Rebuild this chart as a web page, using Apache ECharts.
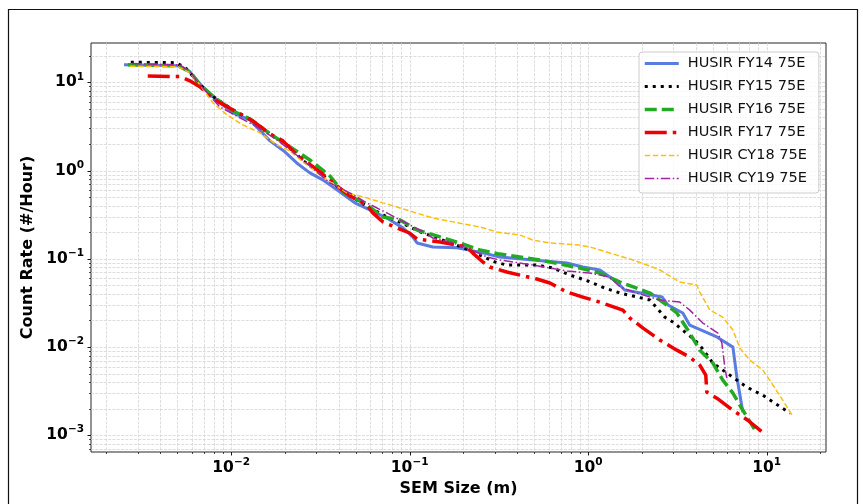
<!DOCTYPE html>
<html>
<head>
<meta charset="utf-8">
<script src="https://cdn.jsdelivr.net/npm/echarts@6/dist/echarts.min.js"></script>
<style>
  html, body { margin: 0; padding: 0; background: #ffffff; }
  #chart { width: 863px; height: 504px; }
</style>
</head>
<body>
<div id="chart"></div>
<script>
// Cumulative count rate versus SEM size, one curve per HUSIR campaign.
const FONT = '"DejaVu Sans", "Liberation Sans", sans-serif';

const seriesNames = ['HUSIR FY14 75E', 'HUSIR FY15 75E', 'HUSIR FY16 75E',
                     'HUSIR FY17 75E', 'HUSIR CY18 75E', 'HUSIR CY19 75E'];

// [SEM size (m), count rate (#/hour)]
const fy14 = [[0.00251,15.8],[0.00503,15.4],[0.00587,13.2],[0.00668,9.64],[0.00779,7.05],
  [0.0102,4.52],[0.0127,3.76],[0.0165,2.17],[0.0200,1.63],[0.0233,1.22],[0.0276,0.942],
  [0.0326,0.784],[0.0391,0.604],[0.0493,0.430],[0.0598,0.358],[0.0745,0.290],[0.0916,0.224],
  [0.104,0.177],[0.110,0.151],[0.135,0.136],[0.184,0.133],[0.247,0.119],[0.320,0.105],
  [0.490,0.0969],[0.760,0.0896],[0.934,0.0807],[1.163,0.0746],[1.448,0.0545],[1.60,0.0442],
  [2.60,0.0368],[2.80,0.0299],[3.39,0.0243],[3.71,0.0177],[5.26,0.0130],[6.47,0.00997],
  [6.81,0.00455],[7.36,0.00182]];

const fy15 = [[0.00274,16.9],[0.00484,16.7],[0.00550,15.0],[0.00668,9.39],[0.00810,6.69],
  [0.0102,4.89],[0.0132,3.66],[0.0171,2.48],[0.0213,1.86],[0.0249,1.32],[0.0314,0.942],
  [0.0435,0.558],[0.0561,0.408],[0.0745,0.298],[0.0904,0.255],[0.111,0.207],[0.142,0.172],
  [0.196,0.136],[0.247,0.110],[0.300,0.0920],[0.350,0.0850],[0.516,0.0850],[0.634,0.0786],
  [0.790,0.0655],[0.996,0.0560],[1.24,0.0466],[1.51,0.0409],[2.22,0.0341],[2.69,0.0218],
  [2.98,0.0192],[3.96,0.0120],[4.34,0.00972],[5.00,0.00657],[6.22,0.00480],[7.74,0.00351],
  [9.52,0.00284],[13.5,0.00178]];

const fy16 = [[0.00264,15.8],[0.00503,15.4],[0.00587,13.2],[0.00668,9.39],[0.00810,6.69],
  [0.0102,4.76],[0.0127,3.86],[0.0165,2.61],[0.0213,1.86],[0.0276,1.32],[0.0357,0.871],
  [0.0422,0.573],[0.0576,0.408],[0.0708,0.298],[0.0881,0.276],[0.110,0.212],[0.148,0.177],
  [0.191,0.151],[0.247,0.126],[0.320,0.113],[0.536,0.0969],[0.899,0.0786],[1.163,0.0690],
  [1.51,0.0545],[2.22,0.0409],[2.76,0.0299],[3.14,0.0243],[3.71,0.0144],[4.22,0.00922],
  [5.00,0.00657],[5.68,0.00421],[6.47,0.00300],[7.36,0.00192],[8.70,0.00111]];

const fy17 = [[0.00341,11.8],[0.00516,11.6],[0.00587,10.4],[0.00668,8.91],[0.00789,6.51],
  [0.0102,4.89],[0.0132,3.66],[0.0165,2.61],[0.0195,2.17],[0.0233,1.51],[0.0314,0.967],
  [0.0391,0.670],[0.0462,0.516],[0.0576,0.408],[0.0622,0.331],[0.0708,0.262],[0.0848,0.224],
  [0.100,0.196],[0.110,0.168],[0.148,0.155],[0.209,0.136],[0.226,0.116],[0.257,0.0920],
  [0.281,0.0807],[0.350,0.0708],[0.516,0.0590],[0.610,0.0531],[0.760,0.0420],[0.934,0.0368],
  [1.163,0.0323],[1.565,0.0262],[1.713,0.0213],[2.03,0.0164],[2.52,0.0120],[3.14,0.00922],
  [3.71,0.00768],[4.22,0.00623],[4.56,0.00480],[4.62,0.00308],[5.26,0.00263],[6.47,0.00192],
  [7.84,0.00148],[9.77,0.00103]];

const cy18 = [[0.00271,15.2],[0.00503,15.0],[0.00587,12.9],[0.00668,9.39],[0.00789,5.87],
  [0.00946,4.29],[0.0116,3.30],[0.0145,2.68],[0.0180,1.96],[0.0213,1.67],[0.0252,1.26],
  [0.0326,0.848],[0.0445,0.558],[0.0576,0.490],[0.0708,0.430],[0.0848,0.387],[0.104,0.340],
  [0.135,0.290],[0.175,0.262],[0.247,0.230],[0.308,0.201],[0.414,0.186],[0.490,0.163],
  [0.610,0.151],[0.899,0.143],[1.063,0.133],[1.448,0.110],[1.78,0.0969],[2.22,0.0828],
  [2.52,0.0746],[3.26,0.0545],[4.06,0.0504],[4.22,0.0420],[4.81,0.0262],[5.68,0.0218],
  [6.47,0.0156],[7.08,0.00972],[8.05,0.00710],[9.52,0.00547],[10.4,0.00421],[12.3,0.00250],
  [14.0,0.00164]];

const cy19 = [[0.00278,16.3],[0.00516,15.8],[0.00587,13.2],[0.00668,9.39],[0.00864,5.28],
  [0.0112,3.96],[0.0136,3.22],[0.0180,2.23],[0.0213,1.72],[0.0252,1.32],[0.0357,0.725],
  [0.0462,0.558],[0.0576,0.430],[0.0745,0.331],[0.0881,0.276],[0.114,0.212],[0.135,0.172],
  [0.175,0.151],[0.209,0.133],[0.271,0.105],[0.320,0.0969],[0.490,0.0850],[0.760,0.0727],
  [1.022,0.0690],[1.32,0.0621],[1.51,0.0479],[1.87,0.0409],[2.52,0.0341],[3.26,0.0323],
  [3.71,0.0262],[4.39,0.0187],[5.33,0.0144],[5.61,0.0111],[5.83,0.00591],[5.98,0.00444]];

const seriesData = [fy14, fy15, fy16, fy17, cy18, cy19];

// Axis extents and tick positions
const xRange = [0.00164, 21.5];
const yRange = [0.000646, 27.9];
const xDecades = [0.001, 0.01, 0.1, 1, 10];
const yDecades = [0.0001, 0.001, 0.01, 0.1, 1, 10];
const minorSteps = [2, 3, 4, 5, 6, 7, 8, 9];

// Per-series drawing styles
const styles = [
  { color: '#5a7be0', width: 3,   dash: 'solid' },
  { color: '#000000', width: 3,   dash: [3, 5] },
  { color: '#22aa22', width: 3.5, dash: [12, 5] },
  { color: '#ee0000', width: 3.5, dash: [22, 6, 3.5, 6] },
  { color: '#fbbf10', width: 1.5, dash: [5.5, 2.5] },
  { color: '#a323a3', width: 1.5, dash: [9.5, 2.5, 1.5, 2.5] }
];

function buildTicks(decades, range) {
  const out = [];
  decades.forEach(d => {
    if (d >= range[0] && d <= range[1]) out.push({ v: d, major: true });
    minorSteps.forEach(m => {
      const v = d * m;
      if (v >= range[0] && v <= range[1]) out.push({ v: v, major: false });
    });
  });
  return out;
}
const xTicks = buildTicks(xDecades, xRange);
const yTicks = buildTicks(yDecades, yRange);

function powerLabel(v) {
  const e = Math.log10(v);
  const r = Math.round(e);
  if (Math.abs(e - r) > 1e-6) return '';
  return '{b|10}{s|' + (r < 0 ? '\u2212' : '') + Math.abs(r) + '}';
}

const labelRich = {
  b: { fontFamily: FONT, fontSize: 15.5, fontWeight: 'bold', color: '#000', lineHeight: 22 },
  s: { fontFamily: FONT, fontSize: 10.5, fontWeight: 'bold', color: '#000', lineHeight: 10, verticalAlign: 'top' }
};

const GRID_COLOR = '#d4d4d4';

// Grid lines plus outward tick marks, positioned by the axes themselves
function guideSeries(axis, ticks) {
  return {
    type: 'custom',
    silent: true,
    z: 1,
    clip: false,
    animation: false,
    data: ticks.map(t => axis === 'x' ? [t.v, 1, t.major ? 1 : 0] : [1, t.v, t.major ? 1 : 0]),
    renderItem(params, api) {
      const major = api.value(2) === 1;
      const len = major ? 3.5 : 2;
      const tickW = major ? 0.9 : 0.7;
      const children = [];
      if (axis === 'x') {
        const v = api.value(0);
        const top = api.coord([v, yRange[1]]);
        const bot = api.coord([v, yRange[0]]);
        const x = Math.round(top[0]) + 0.5;
        children.push({ type: 'line', shape: { x1: x, y1: top[1], x2: x, y2: bot[1] },
          style: { stroke: GRID_COLOR, lineWidth: 0.8, lineDash: [3, 1.3] } });
        children.push({ type: 'line', shape: { x1: x, y1: bot[1], x2: x, y2: bot[1] + len },
          style: { stroke: '#000', lineWidth: tickW } });
      } else {
        const v = api.value(1);
        const l = api.coord([xRange[0], v]);
        const r = api.coord([xRange[1], v]);
        const y = Math.round(l[1]) + 0.5;
        children.push({ type: 'line', shape: { x1: l[0], y1: y, x2: r[0], y2: y },
          style: { stroke: GRID_COLOR, lineWidth: 0.8, lineDash: [3, 1.3] } });
        children.push({ type: 'line', shape: { x1: l[0] - len, y1: y, x2: l[0], y2: y },
          style: { stroke: '#000', lineWidth: tickW } });
      }
      return { type: 'group', children: children };
    }
  };
}

const lineSeries = seriesNames.map((name, i) => ({
  name: name,
  type: 'line',
  data: seriesData[i],
  symbol: 'none',
  showSymbol: false,
  animation: false,
  clip: true,
  z: 2 + i,
  itemStyle: { color: styles[i].color },
  lineStyle: { color: styles[i].color, width: styles[i].width, type: styles[i].dash, cap: 'butt', join: 'round' }
}));

const legendItems = seriesNames.map((name, i) => ({
  name: name,
  lineStyle: { width: styles[i].width, type: styles[i].dash, color: styles[i].color }
}));

const chart = echarts.init(document.getElementById('chart'), null, { renderer: 'canvas' });
chart.setOption({
  animation: false,
  backgroundColor: '#ffffff',
  grid: {
    left: 91, top: 43, width: 735, height: 409,
    show: true, borderColor: '#262626', borderWidth: 1,
    containLabel: false, outerBoundsMode: 'none'
  },
  xAxis: {
    type: 'log', logBase: 10, min: xRange[0], max: xRange[1],
    axisLine: { show: false }, axisTick: { show: false },
    splitLine: { show: false }, minorTick: { show: false }, minorSplitLine: { show: false },
    axisLabel: { formatter: powerLabel, margin: 4.5, rich: labelRich, hideOverlap: false },
    name: 'SEM Size (m)', nameLocation: 'middle', nameGap: 28,
    nameTextStyle: { fontFamily: FONT, fontSize: 16, fontWeight: 'bold', color: '#000' }
  },
  yAxis: {
    type: 'log', logBase: 10, min: yRange[0], max: yRange[1],
    axisLine: { show: false }, axisTick: { show: false },
    splitLine: { show: false }, minorTick: { show: false }, minorSplitLine: { show: false },
    axisLabel: { formatter: powerLabel, margin: 7, rich: labelRich, hideOverlap: false },
    name: 'Count Rate (#/Hour)', nameLocation: 'middle', nameGap: 54, nameRotate: 90,
    nameTextStyle: { fontFamily: FONT, fontSize: 16, fontWeight: 'bold', color: '#000' }
  },
  legend: {
    data: legendItems,
    orient: 'vertical',
    left: 639, top: 52,
    itemWidth: 34, itemHeight: 14, itemGap: 8,
    padding: [4, 12, 7, 4],
    backgroundColor: 'rgba(255,255,255,0.8)',
    borderColor: '#cccccc', borderWidth: 1, borderRadius: 3,
    itemStyle: { opacity: 0 },
    textStyle: { fontFamily: FONT, fontSize: 14.5, color: '#111', padding: [0, 0, 0, 4] },
    selectedMode: false
  },
  graphic: [{
    type: 'rect', silent: true, z: 100,
    shape: { x: 8.5, y: 9.5, width: 849, height: 520 },
    style: { fill: 'none', stroke: '#111', lineWidth: 1.2 }
  }],
  series: [guideSeries('x', xTicks), guideSeries('y', yTicks)].concat(lineSeries)
});
</script>
</body>
</html>
